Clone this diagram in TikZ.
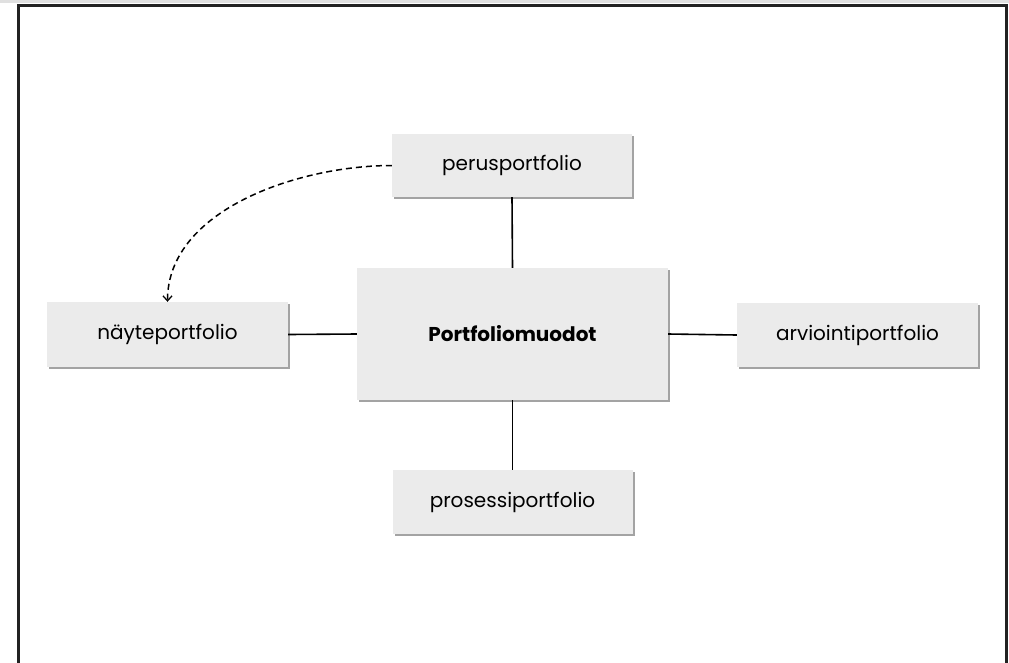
\documentclass[tikz,border=0pt]{standalone}
\usepackage{fontspec}
\setmainfont{Poppins}
\usetikzlibrary{arrows.meta,shadows}
\definecolor{boxfill}{HTML}{EBEBEB}
\definecolor{framecol}{HTML}{222222}
\tikzset{
  pbox/.style={draw=none, fill=boxfill, minimum width=240pt, minimum height=64pt,
    inner sep=0pt, font=\fontsize{20}{24}\selectfont,
    drop shadow={shadow xshift=2pt, shadow yshift=-2pt, fill=black!45, opacity=0.8}},
  conn/.style={line width=1.6pt, draw=black},
  dashconn/.style={line width=1.5pt, draw=black, dash pattern=on 6pt off 4pt,
    -{Straight Barb[length=5pt,width=9pt,line width=1.3pt]}}
}
\begin{document}
\begin{tikzpicture}[x=1pt,y=-1pt]
\useasboundingbox (0,0) rectangle (1009,662);
\fill[white] (0,0) rectangle (1009,662);
\fill[black!12] (0,0) rectangle (1009,3);
\draw[line width=3pt, draw=framecol] (18,680) -- (18,5) -- (1006,5) -- (1006,680);

\node[pbox, minimum width=311pt, minimum height=132pt] (c) at (512.5,334) {\bfseries Portfoliomuodot};
\node[pbox, minimum width=240pt, minimum height=63pt] (p) at (512,165.5) {perusportfolio};
\node[pbox, minimum width=241pt, minimum height=65pt] (n) at (167.5,334.5) {näyteportfolio};
\node[pbox, minimum width=241pt, minimum height=64pt] (a) at (857.5,335) {arviointiportfolio};
\node[pbox, minimum width=240pt, minimum height=64pt] (s) at (512.5,502) {prosessiportfolio};

\draw[conn] (p.south) -- (c.north);
\draw[conn] (c.south) -- (s.north);
\draw[conn] (n.east) -- (c.west);
\draw[conn] (c.east) -- (a.west);
\draw[dashconn] (p.west) to[out=180,in=90,looseness=0.9] (n.north);
\end{tikzpicture}
\end{document}
